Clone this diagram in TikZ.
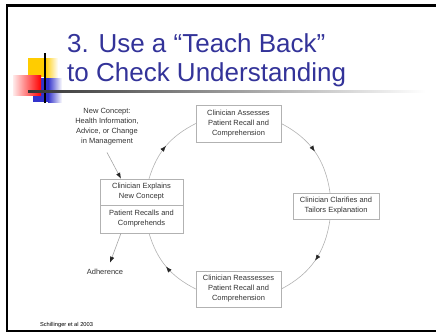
\documentclass[tikz,border=0pt]{standalone}
\usepackage{fontspec}
\setmainfont{Liberation Sans}
\usetikzlibrary{arrows.meta,decorations.markings}
\definecolor{titleblue}{RGB}{51,51,153}
\definecolor{iconyellow}{RGB}{255,204,0}
\definecolor{iconred}{RGB}{255,0,0}
\definecolor{iconblue}{RGB}{51,51,204}
\tikzset{
  box/.style={draw=black!30, line width=0.5pt, align=center, text=black!80,
    font=\fontsize{7.5}{10}\selectfont, inner sep=0pt},
  plain/.style={align=center, text=black!80, font=\fontsize{7.5}{10}\selectfont},
  titletext/.style={anchor=base west, text=titleblue, inner sep=0pt,
    font=\fontsize{26}{30}\selectfont},
  arr/.style={draw=black!35, line width=0.6pt,
    -{Latex[length=6pt,width=4.5pt,color=black!85]}},
  cyc/.style={draw=black!30, line width=0.6pt, postaction={decorate},
    decoration={markings, mark=at position 0.5 with
      {\arrow{Latex[length=6pt,width=4.5pt,color=black!85]}}}}
}
\begin{document}
\begin{tikzpicture}[x=1pt,y=1pt]
\useasboundingbox (0,0) rectangle (436,333);
% slide frame
\draw[line width=2.5pt] (436,327.3) -| (7,2) -- (436,2);
% title
\node[titletext] (title1) at (67,281) {3. Use a “Teach Back”};
\node[titletext] (title2) at (67,252) {to Check Understanding};
% logo
\fill[iconyellow] (28,256) rectangle (45,275);
\shade[left color=iconyellow, right color=white] (45,256) rectangle (58,275);
\fill[iconblue] (33,231) rectangle (48,255);
\shade[left color=iconblue, right color=white] (48,231) rectangle (62,255);
\shade[left color=red!8, right color=iconred] (13,238) rectangle (41,258);
\draw[line width=1.5pt] (45,230) -- (45,280);
\shade[left color=black!80, middle color=black!55, right color=white] (28,241) rectangle (425,243);
% boxes
\node[box, minimum width=85pt, minimum height=37pt] (assess) at (238.5,209.5)
  {Clinician Assesses\\Patient Recall and\\Comprehension};
\node[box, minimum width=86pt, minimum height=26pt] (clarify) at (336,127)
  {Clinician Clarifies and\\Tailors Explanation};
\node[box, minimum width=85pt, minimum height=36pt] (reassess) at (238.5,44)
  {Clinician Reassesses\\Patient Recall and\\Comprehension};
\node[box, minimum width=83pt, minimum height=26pt] (explain) at (141.5,141)
  {Clinician Explains\\New Concept};
\node[box, minimum width=83pt, minimum height=28pt] (recall) at (141.5,114)
  {Patient Recalls and\\Comprehends};
\node[plain] (concept) at (107,206.5)
  {New Concept:\\Health Information,\\Advice, or Change\\in Management};
\node[plain] (adherence) at (105,61) {Adherence};
\node[plain, font=\fontsize{5.7}{7}\selectfont, text=black] (cite) at (66.5,8) {Schillinger et al 2003};
% arrows
\draw[arr] ([yshift=-4pt]concept.south) -- ([xshift=-20.5pt]explain.north);
\draw[arr] ([xshift=-20.5pt]recall.south) -- ([xshift=5pt,yshift=3pt]adherence.north);
\draw[cyc] (assess.east) to[out=-27.5,in=98] ([xshift=-6pt]clarify.north);
\draw[cyc] ([xshift=-6pt]clarify.south) to[out=-98,in=27.5] (reassess.east);
\draw[cyc] (reassess.west) to[out=153,in=-73] ([xshift=7.5pt]recall.south);
\draw[cyc] ([xshift=7.5pt]explain.north) to[out=73,in=207] (assess.west);
\end{tikzpicture}
\end{document}
